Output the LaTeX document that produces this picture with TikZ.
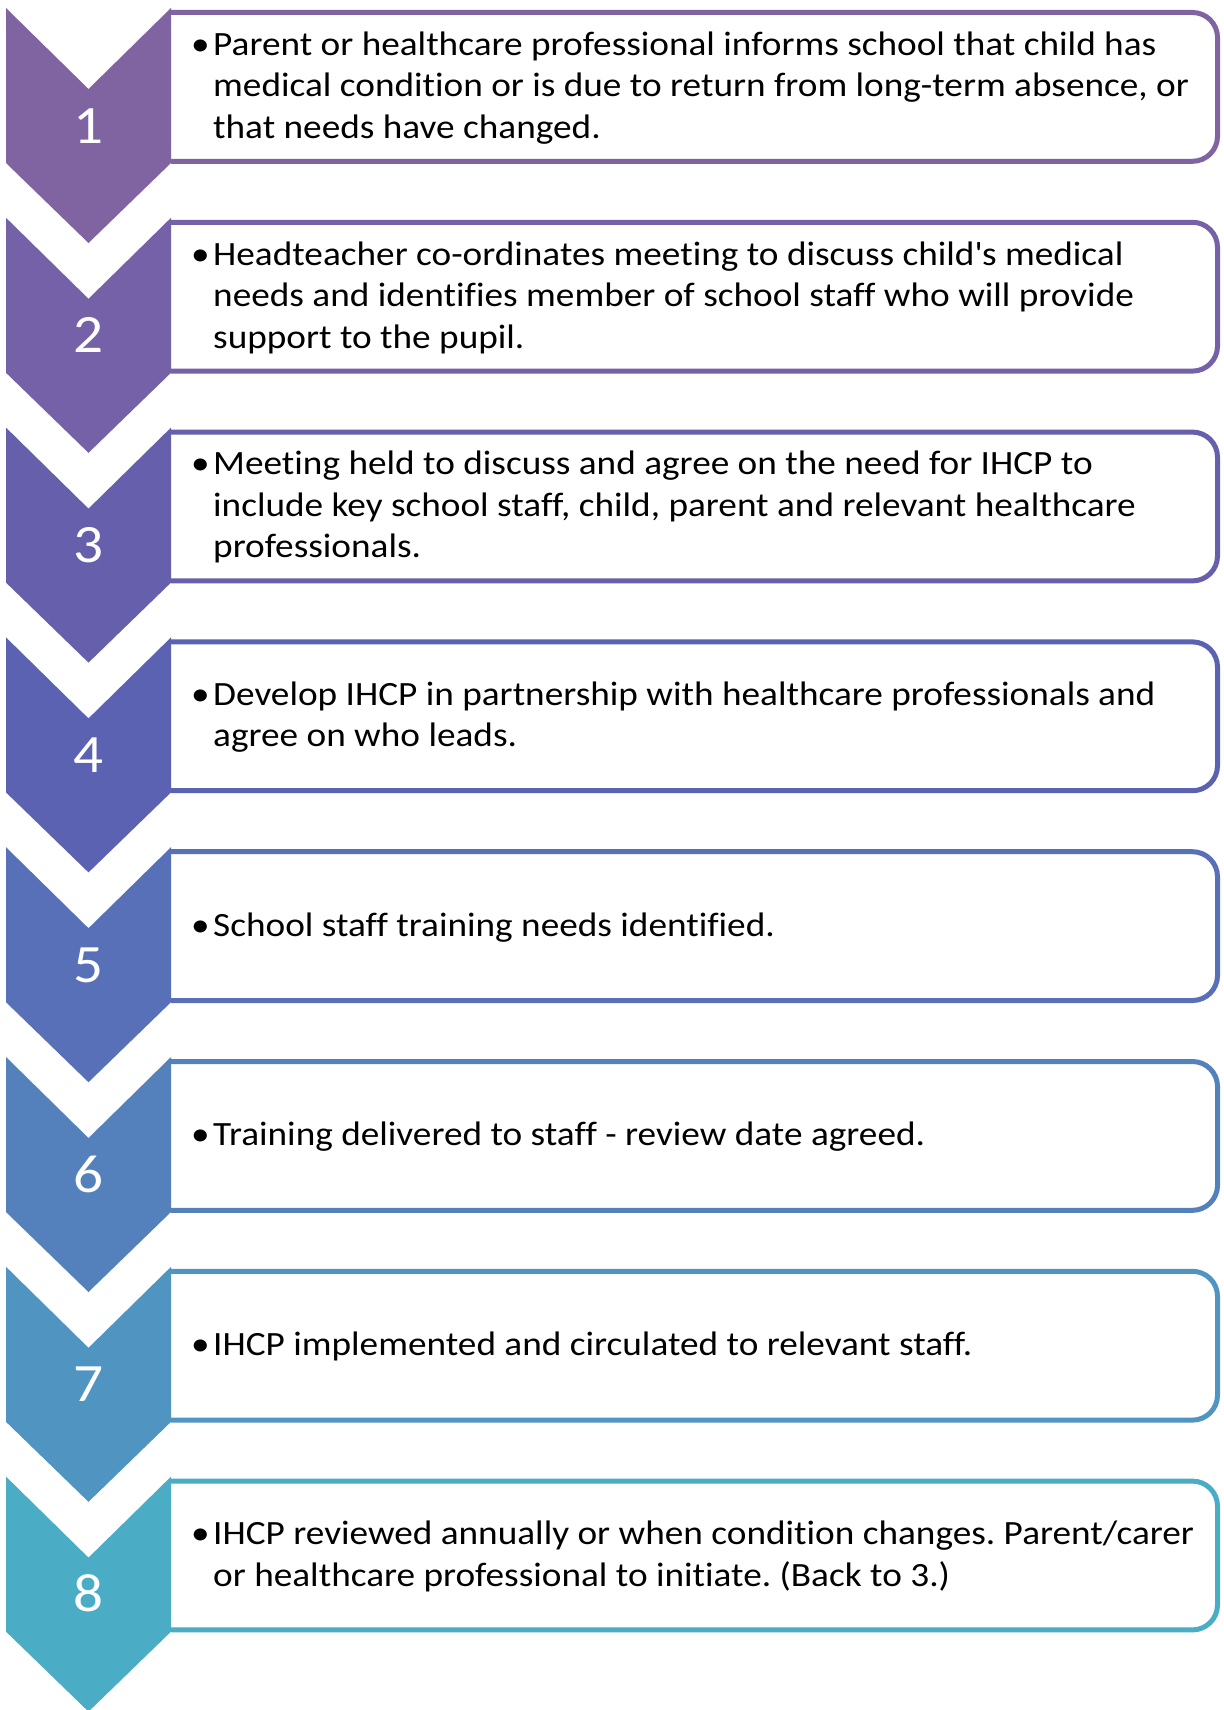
\documentclass[tikz,border=0pt]{standalone}
\usepackage{fontspec}
\setmainfont{Carlito}[FakeStretch=1.096,Ligatures=NoCommon]
\frenchspacing
\definecolor{c1}{RGB}{128,100,162}
\definecolor{c2}{RGB}{117,97,167}
\definecolor{c3}{RGB}{102,95,172}
\definecolor{c4}{RGB}{91,98,177}
\definecolor{c5}{RGB}{88,112,183}
\definecolor{c6}{RGB}{84,129,188}
\definecolor{c7}{RGB}{80,149,193}
\definecolor{c8}{RGB}{75,172,198}
\newcommand{\steptext}[1]{\fontsize{34}{41.5}\selectfont\frenchspacing\begin{tabular}{@{}p{22pt}@{}l@{}}\textbullet & #1\end{tabular}}
\begin{document}
\begin{tikzpicture}[x=1pt,y=-1pt,
  stepbox/.style={line width=5pt,fill=white,rounded corners=25pt},
  chev/.style={fill=#1,draw=none},
  numlbl/.style={text=white,font=\fontsize{54}{60}\selectfont,inner sep=0pt,anchor=base},
  desc/.style={inner sep=0pt,anchor=west}]
\useasboundingbox[fill=white] (0,0) rectangle (1223,1710);
\foreach \i/\c/\txt in {
  1/c1/{Parent or healthcare professional informs school that child has\\ & medical condition or is due to return from long-term absence, or\\ & that needs have changed.},
  2/c2/{Headteacher co-ordinates meeting to discuss child\textquotesingle s medical\\ & needs and identifies member of school staff who will provide\\ & support to the pupil.},
  3/c3/{Meeting held to discuss and agree on the need for IHCP to\\ & include key school staff, child, parent and relevant healthcare\\ & professionals.},
  4/c4/{Develop IHCP in partnership with healthcare professionals and\\ & agree on who leads.},
  5/c5/{School staff training needs identified.},
  6/c6/{Training delivered to staff - review date agreed.},
  7/c7/{IHCP implemented and circulated to relevant staff.},
  8/c8/{IHCP reviewed annually or when condition changes. Parent/carer\\ & or healthcare professional to initiate. (Back to 3.)}}
{
  \pgfmathsetmacro{\T}{8+209.8*(\i-1)}
  \begin{scope}
    \clip (171,\T-10) rectangle (1223,\T+170);
    \draw[stepbox,draw=\c] (100,\T+4.5) rectangle (1217.5,\T+153.3);
  \end{scope}
  \fill[chev=\c] (6,\T) -- (88.5,\T+81) -- (171,\T) -- (171,\T+155) -- (88.5,\T+235) -- (6,\T+155) -- cycle;
  \node[numlbl] (n\i) at (88.5,\T+135) {\i};
  \node[desc] (t\i) at (191,\T+80.5) {\steptext{\txt}};
}
\end{tikzpicture}
\end{document}
